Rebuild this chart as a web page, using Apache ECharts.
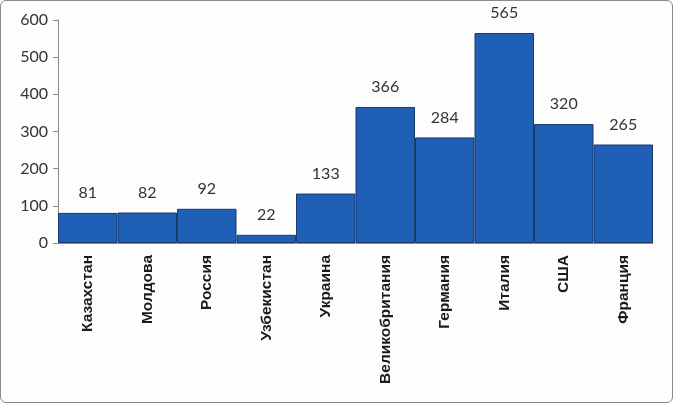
<!DOCTYPE html>
<html><head><meta charset="utf-8">
<script src="https://cdn.jsdelivr.net/npm/echarts@6/dist/echarts.min.js"></script>
<style>
html,body{margin:0;padding:0;background:#fff;}
#wrap{position:absolute;left:0;top:0;width:671px;height:401px;border:1px solid #8a8a8a;border-radius:6px;background:#fdfdfd;}
#c{position:absolute;left:0;top:0;width:673px;height:403px;}
</style></head>
<body>
<div id="wrap"></div>
<div id="c"></div>
<script>
const categories = ['Казахстан','Молдова','Россия','Узбекистан','Украина','Великобритания','Германия','Италия','США','Франция'];
const values = [81, 82, 92, 22, 133, 366, 284, 565, 320, 265];
const yTicks = {min: 0, max: 600, interval: 100};

const chart = echarts.init(document.getElementById('c'));
chart.setOption({
  animation: false,
  grid: {left: 58, right: 20, top: 20, bottom: 160, containLabel: false},
  xAxis: {
    type: 'category', data: categories,
    axisLine: {show: true, lineStyle: {color: '#8c8c8c'}},
    axisTick: {show: false},
    axisLabel: {rotate: 90, interval: 0, margin: 12, color: '#1a1a1a', fontFamily: 'Liberation Sans', fontSize: 15.5, fontWeight: 'bold'}
  },
  yAxis: {
    type: 'value', min: yTicks.min, max: yTicks.max, interval: yTicks.interval,
    axisLine: {show: true, lineStyle: {color: '#8c8c8c'}},
    axisTick: {show: true, inside: false, length: 5, lineStyle: {color: '#8c8c8c'}},
    splitLine: {show: false},
    axisLabel: {color: '#333', fontFamily: 'Lato', fontSize: 16, margin: 10}
  },
  series: [{
    type: 'bar', data: values,
    barCategoryGap: '0%',
    itemStyle: {color: '#1f5fb6', borderColor: '#1b3a68', borderWidth: 1},
    label: {show: true, position: 'top', distance: 12, color: '#333', fontFamily: 'Lato', fontSize: 16}
  }]
});
</script>
</body></html>
